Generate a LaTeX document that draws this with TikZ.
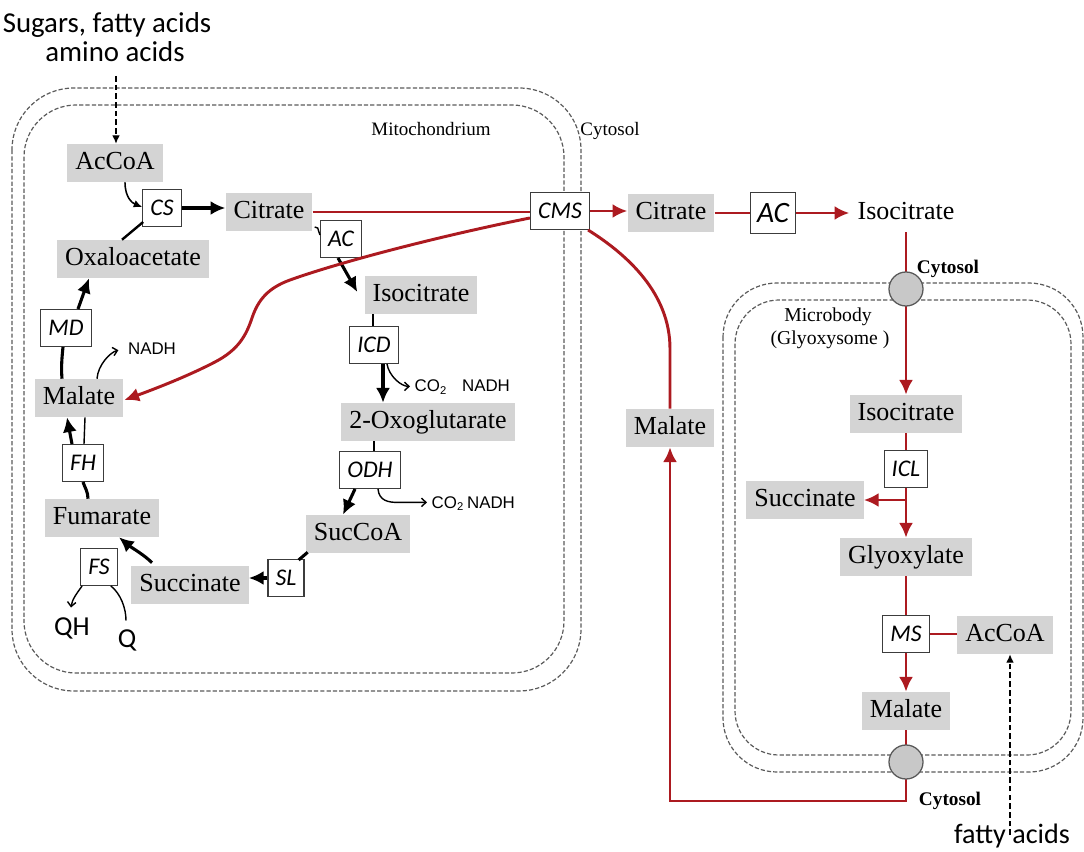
\documentclass[tikz,border=0pt]{standalone}
\usepackage{fontspec}
\setmainfont{Liberation Serif}
\newfontfamily\calibri{Carlito}
\newfontfamily\arial{Liberation Sans}
\usetikzlibrary{arrows.meta,calc}
\definecolor{metgray}{RGB}{212,212,212}
\definecolor{pathred}{RGB}{172,26,32}
\definecolor{membrane}{RGB}{90,90,90}
\definecolor{enzline}{RGB}{60,60,60}
\definecolor{poregray}{RGB}{200,200,200}
\begin{document}
\begin{tikzpicture}[x=0.025cm,y=-0.025cm,
  met/.style={fill=metgray, font=\fontsize{18.5}{20}\selectfont, inner xsep=0.2cm, inner ysep=0pt,
    minimum height=0.95cm, text height=12.6pt, text depth=4pt},
  enz/.style={draw=enzline, line width=0.85pt, fill=white, font=\calibri\itshape\fontsize{17}{19}\selectfont,
    inner xsep=0.19cm, inner ysep=0pt, minimum height=0.92cm, text height=11.2pt, text depth=0.5pt},
  lab/.style={inner sep=1pt},
  membr/.style={draw=membrane, line width=0.85pt, dash pattern=on 3pt off 1.5pt},
  pore/.style={circle, draw=gray!70!black, line width=0.9pt, fill=poregray, minimum size=0.85cm, inner sep=0pt},
  bigline/.style={line width=2.2pt, black},
  bigarr/.style={bigline, -{Latex[length=10.5pt,width=10pt]}},
  thinline/.style={line width=1pt, black},
  thinarr/.style={thinline, -{Straight Barb[length=3.2pt,width=6pt]}},
  smallarr/.style={line width=1.1pt, black, -{Latex[length=6pt,width=5.5pt]}},
  dasharr/.style={line width=0.85pt, black, dash pattern=on 4pt off 2.2pt, -{Latex[length=6pt,width=5.5pt]}},
  redline/.style={line width=2.1pt, pathred},
  redarr/.style={redline, -{Latex[length=10.5pt,width=10pt]}}
]
\useasboundingbox (0,0) rectangle (1084,852);

% membranes
\draw[membr, rounded corners=1.55cm] (12,88) rectangle (581,691);
\draw[membr, rounded corners=1.3cm] (24,105) rectangle (564,673);
\draw[membr, rounded corners=1.35cm] (723,283) rectangle (1083,772);
\draw[membr, rounded corners=1.1cm] (735,300) rectangle (1071,755);

% compartment labels
\node[lab, anchor=base, font=\fontsize{13.5}{15}\selectfont] (mitoLab) at (431,136) {Mitochondrium};
\node[lab, anchor=base, font=\fontsize{13.5}{15}\selectfont] (cytoLab) at (610,136) {Cytosol};
\node[lab, anchor=base, font=\bfseries\fontsize{13.7}{15}\selectfont] (cytoTop) at (948,274) {Cytosol};
\node[lab, anchor=base, font=\bfseries\fontsize{13.7}{15}\selectfont] (cytoBot) at (950,805) {Cytosol};
\node[lab, anchor=base, font=\fontsize{14}{15}\selectfont] (mbLab) at (828,322) {Microbody};
\node[lab, anchor=base, font=\fontsize{14}{15}\selectfont] (gxLab) at (830,345) {(Glyoxysome )};

% external inputs
\node[lab, anchor=base, font=\calibri\fontsize{20.5}{24}\selectfont] (src1) at (107,33) {Sugars, fatty acids};
\node[lab, anchor=base, font=\calibri\fontsize{20.5}{24}\selectfont] (src2) at (115,62) {amino acids};
\node[lab, anchor=base, font=\calibri\fontsize{20}{24}\selectfont] (fa) at (1012,843) {fatty acids};

% metabolites
\node[met] (mAcCoA) at (115,163) {AcCoA};
\node[met] (mOAA) at (133,259) {Oxaloacetate};
\node[met] (mCit) at (269,212) {Citrate};
\node[met] (mIso) at (421,295) {Isocitrate};
\node[met] (mOxo) at (428,422) {2-Oxoglutarate};
\node[met] (mSuc) at (358,534) {SucCoA};
\node[met] (mSucc) at (190,585) {Succinate};
\node[met] (mFum) at (102,518) {Fumarate};
\node[met] (mMal) at (79,398) {Malate};
\node[met] (cCit) at (671,213) {Citrate};
\node[met] (cMal) at (670,428) {Malate};
\node[met, fill=none] (cIso) at (906,213) {Isocitrate};
\node[met] (gIso) at (906,414) {Isocitrate};
\node[met] (gSucc) at (805,500) {Succinate};
\node[met] (gGly) at (906,557) {Glyoxylate};
\node[met] (gAcCoA) at (1005,635) {AcCoA};
\node[met] (gMal) at (906,711) {Malate};

% enzymes
\node[enz] (CS) at (162,208) {CS};
\node[enz] (AC) at (341,239) {AC};
\node[enz] (ICD) at (374,345) {ICD};
\node[enz] (ODH) at (370,470) {ODH};
\node[enz] (SL) at (286,578) {SL};
\node[enz] (FS) at (99,567) {FS};
\node[enz] (FH) at (83,463) {FH};
\node[enz] (MD) at (66,328) {MD};
\node[enz] (CMS) at (560,211) {CMS};
\node[enz, font=\calibri\itshape\fontsize{21}{23}\selectfont, text height=13.6pt, minimum height=1.02cm, inner xsep=0.17cm] (AC2) at (773,213) {AC};
\node[enz] (ICL) at (906,469) {ICL};
\node[enz] (MS) at (906,634) {MS};

% cofactors
\node[lab, anchor=base, font=\arial\fontsize{12}{14}\selectfont] (nadh1) at (152,355) {NADH};
\node[lab, anchor=base west, font=\arial\fontsize{12}{14}\selectfont] (co2a) at (413,392) {CO\textsubscript{2}};
\node[lab, anchor=base, font=\arial\fontsize{12}{14}\selectfont] (nadh2) at (486,392) {NADH};
\node[lab, anchor=base west, font=\arial\fontsize{12}{14}\selectfont] (co2b) at (430,508) {CO\textsubscript{2}};
\node[lab, anchor=base, font=\arial\fontsize{12}{14}\selectfont] (nadh3) at (491,508) {NADH};
\node[lab, anchor=base, font=\calibri\fontsize{19.5}{22}\selectfont] (QH) at (72,635) {QH};
\node[lab, anchor=base, font=\calibri\fontsize{19.5}{22}\selectfont] (Q) at (127,647) {Q};

% supply arrows
\draw[dasharr] ($(src2.south)+(1,12)$) -- ($(mAcCoA.north)+(1,0)$);
\draw[dasharr] ($(fa.base)+(-2,-8)$) -- ($(gAcCoA.south)+(5,0)$);

% citric acid cycle
\draw[smallarr] ($(mAcCoA.south)+(10,0)$) .. controls +(0,15) and +(-10,-4) .. ($(CS.west)+(0,-1)$);
\draw[bigline, line width=1.7pt] ($(mOAA.north)+(-11,0)$) -- ($(CS.south west)+(1,-5)$);
\draw[bigarr] (CS.east) -- (CS.east -| mCit.west);
\draw[thinline] ($(mCit.east)+(2,15)$) -- ++(3,1) -- ($(AC.west)+(0,-4)$);
\draw[bigarr] ($(AC.south)+(-3,0)$) -- ($(mIso.west)+(-7,-3)$);
\coordinate (icdIn) at ($(ICD.north)+(-1,0)$);
\draw[thinline] (icdIn) -- (icdIn |- mIso.south);
\coordinate (icdOut) at ($(ICD.south)+(9,0)$);
\draw[bigarr] (icdOut) -- (icdOut |- mOxo.north);
\draw[thinarr] ($(ICD.south)+(13,0)$) .. controls +(2,12) and +(-9,0) .. ($(co2a.west)+(-3,-1)$);
\coordinate (odhIn) at ($(ODH.north)+(4,0)$);
\draw[thinline] (odhIn) -- (odhIn |- mOxo.south);
\draw[bigarr] ($(ODH.south)+(-15,0)$) -- ($(mSuc.north)+(-15,0)$);
\draw[thinarr] ($(ODH.south)+(8,0)$) .. controls +(1,12) and +(-8,0) .. ($(co2b.west)+(-33,-1)$) -- ($(co2b.west)+(-3,-1)$);
\draw[bigline] ($(mSuc.south west)+(2,-1)$) -- ($(SL.north east)+(-6,1)$);
\draw[bigarr] (SL.west) -- (SL.west -| mSucc.east);
\draw[bigarr] ($(mSucc.north)+(-38,-3)$) .. controls +(-8,-8) and +(12,10) .. ($(mFum.south)+(17,0)$);
\draw[thinarr] ($(FS.south west)+(2,0)$) .. controls +(-5,7) and +(1,-8) .. ($(QH.north)+(-1,-8)$);
\draw[thinline] ($(FS.south east)+(-7,0)$) .. controls +(10,8) and +(0,-12) .. ($(Q.north)+(-1,-7)$);
\draw[bigline] ($(mFum.north)+(-14,0)$) .. controls +(0,-7) and +(2,6) .. (FH.south);
\draw[bigarr] ($(FH.north)+(-11,0)$) -- ($(mMal.south)+(-12,0)$);
\draw[thinline] ($(FH.north)+(1,0)$) -- ($(mMal.south)+(6,0)$);
\draw[bigline] ($(mMal.north)+(-17,0)$) .. controls +(-1,-12) and +(-1,10) .. ($(MD.south)+(-3,0)$);
\draw[thinarr] ($(mMal.north)+(18,0)$) .. controls +(1,-14) and +(-8,2) .. ($(nadh1.west)+(-8,1)$);
\draw[bigarr] ($(MD.north)+(12,0)$) -- ($(mOAA.south)+(-44,0)$);

% citrate-malate shuttle and glyoxylate cycle
\draw[redline] (mCit.east) -- (mCit.east -| CMS.west);
\draw[redarr] ($(CMS.west)+(0,7)$) .. controls (440,236) and (340,262) .. (290,280)
   .. controls (268,288) and (258,300) .. (252,318)
   .. controls (246,336) and (238,350) .. (215,362)
   .. controls (190,375) and (160,387) .. ($(mMal.east)+(1,2)$);
\draw[redarr] (CMS.east) -- (CMS.east -| cCit.west);
\draw[redline] (cCit.east) -- (cCit.east -| AC2.west);
\draw[redarr] (AC2.east) -- (AC2.east -| cIso.west);
\draw[redline] ($(CMS.south east)+(-2,0)$) .. controls (628,255) and ($(cMal.north)+(0,-115)$) .. ($(cMal.north)+(0,-60)$) -- (cMal.north);
\draw[redarr] (cIso.south) -- (gIso.north);
\draw[redline] (gIso.south) -- (ICL.north);
\draw[redarr] (ICL.south) -- (gGly.north);
\coordinate (branch) at (ICL.south |- gSucc.east);
\draw[redarr] (branch) -- (gSucc.east);
\draw[redline] (gGly.south) -- (MS.north);
\draw[redline] (MS.east) -- (MS.east -| gAcCoA.west);
\draw[redarr] (MS.south) -- (gMal.north);
\coordinate (loopR) at (906,801);
\draw[redarr] (gMal.south) -- (loopR) -| (cMal.south);

% membrane transporters
\node[pore] (t1) at (906,289) {};
\node[pore] (t2) at (906,762) {};
\end{tikzpicture}
\end{document}
